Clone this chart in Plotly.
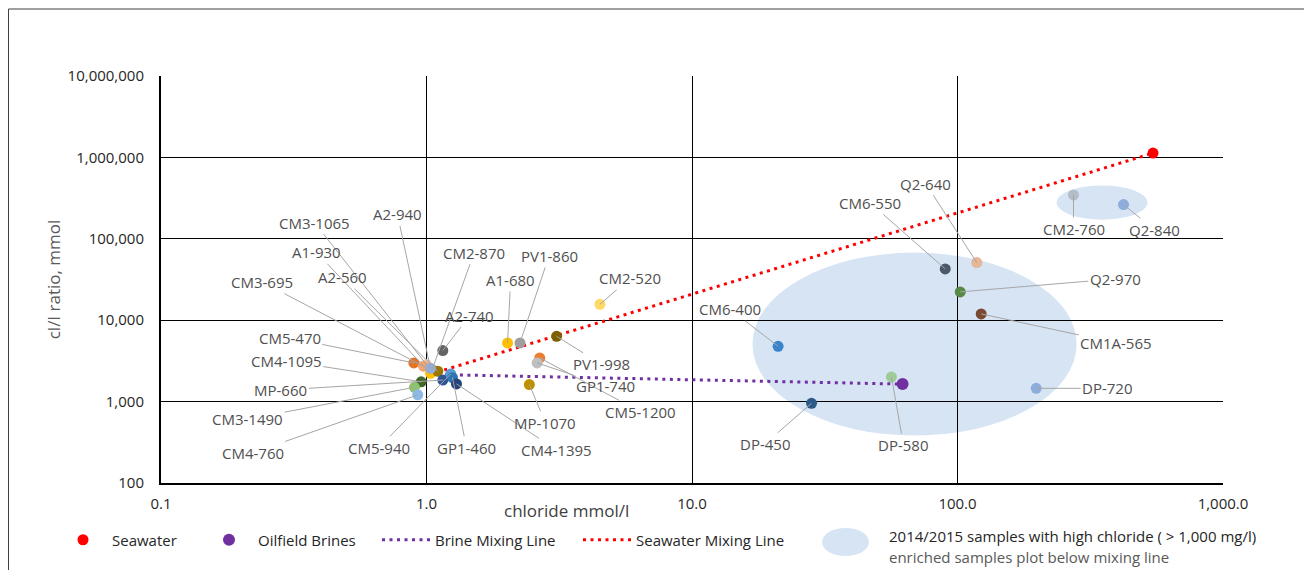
import numpy as np
import plotly.graph_objects as go

# ---------------- data ----------------
sample_names = [
    "CM3-1065", "CM2-870", "CM5-470", "CM3-695", "A1-930", "A2-560", "A2-940",
    "A2-740", "CM4-1095", "CM3-1490", "CM4-760", "MP-660", "CM5-940", "GP1-460",
    "CM4-1395", "A1-680", "PV1-860", "PV1-998", "CM5-1200", "GP1-740", "MP-1070",
    "CM2-520", "CM6-550", "Q2-640", "Q2-970", "CM1A-565", "CM2-760", "Q2-840",
    "CM6-400", "DP-580", "DP-450", "DP-720",
]
sample_chloride = [
    1.00, 1.05, 0.896, 0.974, 1.035, 1.103, 1.035,
    1.152, 0.955, 0.901, 0.927, 1.152, 1.234, 1.253,
    1.297, 2.02, 2.25, 3.09, 2.67, 2.61, 2.44,
    4.50, 89.9, 118.2, 102.4, 122.8, 273.5, 422.0,
    21.1, 56.4, 28.2, 197.9,
]
sample_ratio = [
    2850, 2470, 2990, 2720, 2230, 2360, 2560,
    4230, 1750, 1500, 1210, 1840, 2190, 1970,
    1650, 5260, 5260, 6340, 3440, 2990, 1620,
    15670, 42660, 51000, 22270, 11940, 346000, 263000,
    4780, 2010, 953, 1456,
]

seawater_chloride = [545.0]
seawater_ratio = [1130000]
brine_chloride = [62.1]
brine_ratio = [1640]
fresh_chloride = [1.03]
fresh_ratio = [2160]

# area of high-chloride 2014/2015 samples (data units)
high_cl_area_chloride = [16.9, 281.0]
high_cl_area_ratio = [382, 67650]
high_cl_small_chloride = [236.0, 520.0]
high_cl_small_ratio = [172000, 451000]

x_tick_values = [0.1, 1, 10, 100, 1000]
x_tick_labels = ["0.1", "1.0", "10.0", "100.0", "1,000.0"]
y_tick_values = [100, 1000, 10000, 100000, 1000000, 10000000]
y_tick_labels = ["100", "1,000", "10,000", "100,000", "1,000,000", "10,000,000"]

# ---------------- styles ----------------
sample_colors = [
    "#F8CBAD", "#7F7F7F", "#E2742A", "#F4A46E", "#FFC000", "#9C7600", "#93AEDB",
    "#636363", "#43682B", "#8DC26F", "#8EB8E5", "#2F5597", "#5B9BD5", "#2E75B6",
    "#264478", "#FFC000", "#9E9E9E", "#7F6000", "#ED7D31", "#BFBFBF", "#BF9000",
    "#FFD966", "#4A5868", "#E6B696", "#578A45", "#7B4A32", "#B4BCC7", "#8DAEDC",
    "#3A84CC", "#9FCB98", "#2C5A88", "#8DAEDC",
]
# label offsets (pixels) from each point to its label centre
label_offsets = [
    (-112, -142), (42, -117), (-124, -25), (-161, -84), (-114, -121), (-95, -94), (-33, -154),
    (27, -35), (-135, -21), (-167, 32), (-165, 58), (-162, 10), (-72, 74), (14, 70),
    (100, 66), (3, -63), (29, -87), (45, 28), (101, 54), (68, 23), (16, 38),
    (30, -26), (-75, -66), (-51, -79), (155, -13), (135, 29), (0, 34), (31, 25),
    (-48, -37), (12, 68), (-47, 41), (71, 0),
]

FONT = "Open Sans"
BODY = 8                      # page body margin of the html page
W, H = 1312 - BODY, 570 - BODY
PL, PR, PT, PB = 161, 1223, 76, 483   # plot area in page pixels
PW, PH = PR - PL, PB - PT


def px_to_paper(px, py):
    return (px - PL) / PW, (PB - py) / PH


fig = go.Figure()

# mixing lines
fig.add_trace(go.Scatter(
    x=fresh_chloride + brine_chloride, y=fresh_ratio + brine_ratio,
    mode="lines", name="Brine Mixing Line",
    line=dict(color="#7030A0", width=3, dash="3px,4.5px"),
    legend="legend3", hoverinfo="skip",
))
fig.add_trace(go.Scatter(
    x=fresh_chloride + seawater_chloride, y=fresh_ratio + seawater_ratio,
    mode="lines", name="Seawater Mixing Line",
    line=dict(color="#FF0000", width=3, dash="3px,4.5px"),
    legend="legend4", hoverinfo="skip",
))

# samples
fig.add_trace(go.Scatter(
    x=sample_chloride, y=sample_ratio, mode="markers", text=sample_names,
    marker=dict(size=11, color=sample_colors, line=dict(width=0)),
    showlegend=False, hovertemplate="%{text}<br>%{x}, %{y}<extra></extra>",
))

# end members
fig.add_trace(go.Scatter(
    x=seawater_chloride, y=seawater_ratio, mode="markers", name="Seawater",
    marker=dict(size=11, color="#FF0000"), legend="legend",
))
fig.add_trace(go.Scatter(
    x=brine_chloride, y=brine_ratio, mode="markers", name="Oilfield Brines",
    marker=dict(size=12, color="#7030A0"), legend="legend2",
))

# data labels with leader lines
for name, xv, yv, (ax, ay) in zip(sample_names, sample_chloride, sample_ratio, label_offsets):
    fig.add_annotation(
        x=np.log10(xv), y=np.log10(yv), xref="x", yref="y",
        text=name, showarrow=True, arrowhead=0, arrowwidth=1,
        arrowcolor="#A6A6A6", ax=ax, ay=ay, standoff=0, startstandoff=0,
        font=dict(family=FONT, size=15, color="#505050"),
    )

shapes = []
# high chloride areas
shapes.append(dict(
    type="circle", xref="x", yref="y", layer="below",
    x0=high_cl_area_chloride[0], x1=high_cl_area_chloride[1],
    y0=high_cl_area_ratio[0], y1=high_cl_area_ratio[1],
    fillcolor="#D6E4F4", line=dict(width=0),
))
shapes.append(dict(
    type="circle", xref="x", yref="y", layer="below",
    x0=high_cl_small_chloride[0], x1=high_cl_small_chloride[1],
    y0=high_cl_small_ratio[0], y1=high_cl_small_ratio[1],
    fillcolor="#D6E4F4", line=dict(width=0),
))
# outer frame
fx0, fy1 = px_to_paper(BODY + 0.5, 9)
fx1, fy0 = px_to_paper(1311, 580)
shapes.append(dict(type="rect", xref="paper", yref="paper", x0=fx0, x1=fx1, y0=fy0, y1=fy1,
                   line=dict(color="#404040", width=1), fillcolor="rgba(0,0,0,0)"))
# legend swatch for the area
sx0, sy1 = px_to_paper(822, 528)
sx1, sy0 = px_to_paper(869, 556)
shapes.append(dict(type="circle", xref="paper", yref="paper", x0=sx0, x1=sx1, y0=sy0, y1=sy1,
                   fillcolor="#D6E4F4", line=dict(width=0)))

fig.update_layout(shapes=shapes)

tx, ty = px_to_paper(887, 536)
fig.add_annotation(xref="paper", yref="paper", x=tx, y=ty, xanchor="left", yanchor="middle",
                   showarrow=False, text="2014/2015 samples with high chloride ( > 1,000 mg/l)",
                   font=dict(family=FONT, size=15, color="#262626"))
tx, ty = px_to_paper(887, 557)
fig.add_annotation(xref="paper", yref="paper", x=tx, y=ty, xanchor="left", yanchor="middle",
                   showarrow=False, text="enriched samples plot below mixing line",
                   font=dict(family=FONT, size=15, color="#595959"))

# x axis title (off-centre in the original)
tx, ty = px_to_paper(566, 511)
fig.add_annotation(xref="paper", yref="paper", x=tx, y=ty, xanchor="center", yanchor="middle",
                   showarrow=False, text="chloride mmol/l",
                   font=dict(family=FONT, size=17, color="#404040"))

legend_common = dict(orientation="h", yanchor="middle", xanchor="left", itemwidth=48,
                     bgcolor="rgba(0,0,0,0)", font=dict(family=FONT, size=15, color="#262626"))
ly = px_to_paper(0, 540)[1]
fig.update_layout(
    template="none",
    width=W, height=H,
    margin=dict(l=PL - BODY, r=1312 - PR, t=PT - BODY, b=570 - PB),
    paper_bgcolor="white", plot_bgcolor="white",
    font=dict(family=FONT, size=15, color="#404040"),
    legend=dict(x=px_to_paper(83 - 29, 0)[0], y=ly, **legend_common),
    legend2=dict(x=px_to_paper(229 - 29, 0)[0], y=ly, **legend_common),
    legend3=dict(x=px_to_paper(382 - 5, 0)[0], y=ly, **legend_common),
    legend4=dict(x=px_to_paper(583 - 5, 0)[0], y=ly, **legend_common),
    xaxis=dict(
        type="log", range=[-1, 3], tickvals=x_tick_values, ticktext=x_tick_labels,
        showgrid=True, gridcolor="#000000", gridwidth=1.2,
        showline=True, linecolor="#000000", linewidth=2, ticks="",
        ticklabelstandoff=6, zeroline=False,
        tickfont=dict(family=FONT, size=15, color="#262626"),
    ),
    yaxis=dict(
        type="log", range=[2, 7], tickvals=y_tick_values, ticktext=y_tick_labels,
        showgrid=True, gridcolor="#000000", gridwidth=1.2,
        showline=True, linecolor="#000000", linewidth=2, ticks="",
        ticklabelstandoff=12, zeroline=False,
        tickfont=dict(family=FONT, size=15, color="#262626"),
        title=dict(text="cl/I ratio, mmol", standoff=3,
                   font=dict(family=FONT, size=17, color="#595959")),
    ),
)

fig.write_html("out.html")
